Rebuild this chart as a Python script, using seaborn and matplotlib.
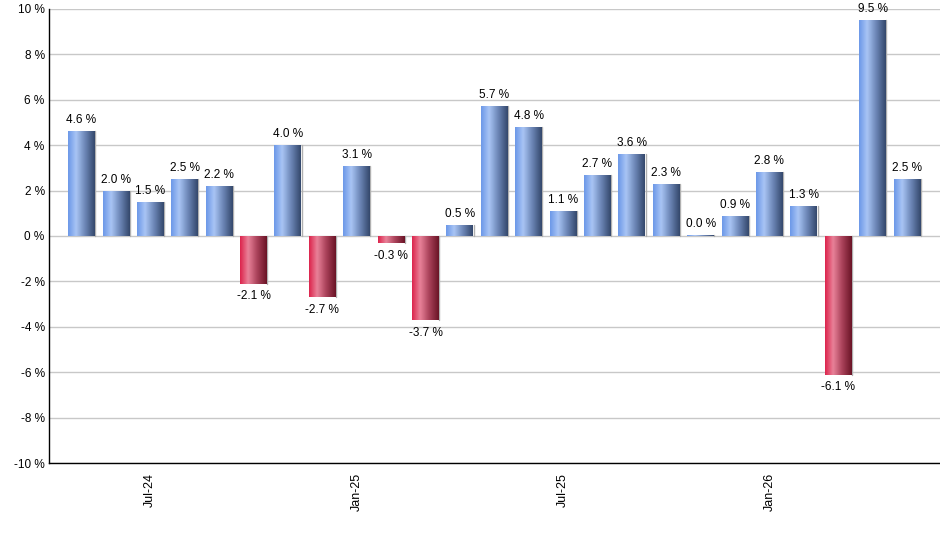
import matplotlib
matplotlib.use('Agg')
import matplotlib.pyplot as plt
import numpy as np
import pandas as pd
import seaborn as sns
from matplotlib.colors import LinearSegmentedColormap

months = ['May-24', 'Jun-24', 'Jul-24', 'Aug-24', 'Sep-24', 'Oct-24', 'Nov-24', 'Dec-24',
          'Jan-25', 'Feb-25', 'Mar-25', 'Apr-25', 'May-25', 'Jun-25', 'Jul-25', 'Aug-25',
          'Sep-25', 'Oct-25', 'Nov-25', 'Dec-25', 'Jan-26', 'Feb-26', 'Mar-26', 'Apr-26',
          'May-26']
returns = [4.6, 2.0, 1.5, 2.5, 2.2, -2.1, 4.0, -2.7, 3.1, -0.3, -3.7, 0.5, 5.7, 4.8,
           1.1, 2.7, 3.6, 2.3, 0.04, 0.9, 2.8, 1.3, -6.1, 9.5, 2.5]
tick_months = ['Jul-24', 'Jan-25', 'Jul-25', 'Jan-26']

df = pd.DataFrame({'month': months, 'ret': returns})
df['sign'] = np.where(df['ret'] < 0, 'neg', 'pos')

sns.set_style('white')
plt.rcParams['font.family'] = ['Liberation Sans', 'DejaVu Sans']
plt.rcParams['text.color'] = 'black'
plt.rcParams['xtick.color'] = 'black'
plt.rcParams['ytick.color'] = 'black'

fig = plt.figure(figsize=(9.4, 5.5), dpi=100)
ax = fig.add_axes([0.052, 0.158, 0.948, 0.826])

sns.barplot(data=df, x='month', y='ret', hue='sign',
            palette={'pos': '#7fa3e6', 'neg': '#c83050'},
            width=0.78, dodge=False, legend=False, ax=ax)

# gradient fill for each bar (light strip left of centre, dark on right)
blue = LinearSegmentedColormap.from_list(
    'b', [(0, '#6c98e8'), (0.3, '#a9c5f5'), (0.65, '#6a84b4'), (1, '#34486c')])
red = LinearSegmentedColormap.from_list(
    'r', [(0, '#dc244c'), (0.3, '#e98299'), (0.65, '#a84058'), (1, '#6a1426')])
grad = np.linspace(0, 1, 64).reshape(1, -1)
for p in ax.patches:
    h = p.get_height()
    if abs(h) < 1e-9:
        continue
    x0, w = p.get_x(), p.get_width()
    y0 = p.get_y()
    cmap = red if h < 0 else blue
    y_lo, y_hi = min(y0, y0 + h), max(y0, y0 + h)
    im = ax.imshow(grad, cmap=cmap, aspect='auto', extent=(x0, x0 + w, y_lo, y_hi),
                   zorder=3, interpolation='bicubic')
    im.set_clip_path(p)
    p.set_facecolor('none')
    p.set_edgecolor('none')
    # soft shadow on the right edge
    ax.plot([x0 + w + 0.01] * 2, [y_lo, y_hi], color='#b0b0b0', lw=1, zorder=2.5)

for i, v in enumerate(returns):
    if v >= 0:
        ax.text(i, v + 0.22, f'{v:.1f} %', ha='center', va='bottom', fontsize=8.5)
    else:
        ax.text(i, v - 0.3, f'{v:.1f} %', ha='center', va='top', fontsize=8.5)

ax.set_xlim(-0.95, 24.96)
ax.set_ylim(-10, 10)
ax.set_yticks(range(-10, 11, 2))
ax.set_yticklabels([f'{t} %' for t in range(-10, 11, 2)], fontsize=8.5)
ax.set_xticks([months.index(m) for m in tick_months])
ax.set_xticklabels(tick_months, rotation=90, fontsize=9)
ax.tick_params(axis='x', length=5, width=1, color='black', direction='out', pad=2)
ax.tick_params(axis='y', length=0, pad=3)
ax.set_xlabel('')
ax.set_ylabel('')

ax.yaxis.grid(True, color='#c8c8c8', lw=1)
ax.set_axisbelow(True)
for s in ['top', 'right']:
    ax.spines[s].set_visible(False)
for s in ['left', 'bottom']:
    ax.spines[s].set_color('black')
    ax.spines[s].set_linewidth(1)

fig.savefig('out.png', dpi=100)
